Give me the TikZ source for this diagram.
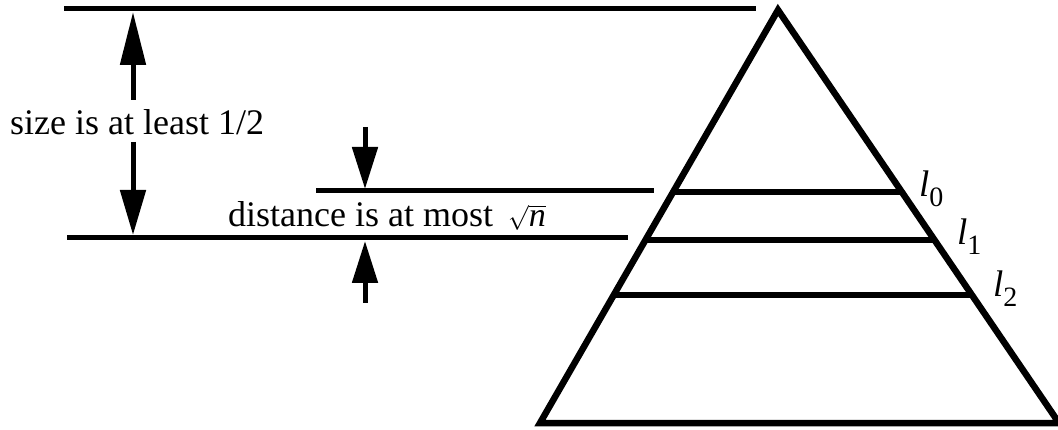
\documentclass[tikz,border=0pt]{standalone}
\usepackage{fontspec}
\setmainfont{Liberation Serif}
\usetikzlibrary{arrows.meta,calc}
\newcommand{\subdigit}[1]{\raisebox{-10pt}{\fontsize{28}{28}\selectfont\upshape #1}}
\begin{document}
\begin{tikzpicture}[x=1pt,y=-1pt,
  thinline/.style={line width=5pt},
  triline/.style={line width=6.5pt,line join=miter},
  dimarrow/.style={line width=5pt,-{Triangle[length=#1,width=25pt]}},
  dimarrow/.default=44pt,
  lbl/.style={inner sep=0pt,anchor=base west,font=\fontsize{36}{40}\selectfont},
  sublbl/.style={inner sep=0pt,anchor=base west,font=\fontsize{37}{40}\selectfont\itshape}]
\useasboundingbox (0,0) rectangle (1058,430);
% triangle
\coordinate (apex) at (778,10);
\coordinate (bl) at (540,423);
\coordinate (br) at (1059,423);
\draw[triline] (apex) -- (bl) -- (br) -- cycle;
% rungs
\foreach \t/\n in {0.4407/a,0.5569/b,0.6901/c}{
  \coordinate (L\n) at ($(apex)!\t!(bl)$);
  \coordinate (R\n) at ($(apex)!\t!(br)$);
  \draw[triline,line cap=butt] (L\n) -- (R\n);
}
% reference lines
\coordinate (t1) at (64,9);   \coordinate (t2) at (756,9);
\coordinate (m1) at (316,191); \coordinate (m2) at (654,191);
\coordinate (b1) at (67,238);  \coordinate (b2) at (628,238);
\draw[thinline] (t1) -- (t2);
\draw[thinline] (m1) -- (m2);
\draw[thinline] (b1) -- (b2);
% labels
\node[lbl] (size) at (10,135) {size is at least 1/2};
\node[lbl] (dist) at (228,227) {distance is at most};
\node[inner sep=0pt,anchor=base west,font=\fontsize{34}{36}\selectfont] (sq) at (508,227) {$\sqrt{\textit{n}}$};
\node[sublbl] (l0) at (919,197) {l\subdigit{0}};
\node[sublbl] (l1) at (957,245) {l\subdigit{1}};
\node[sublbl] (l2) at (993,297) {l\subdigit{2}};
% arrows
\coordinate (ua) at (133,100); \coordinate (ut) at (133,12);
\coordinate (da) at (133,142); \coordinate (dt) at (133,235);
\coordinate (sa) at (365,127); \coordinate (st) at (365,189);
\coordinate (qa) at (365,303); \coordinate (qt) at (365,241);
\draw[dimarrow=53pt] (ua) -- (ut);
\draw[dimarrow=45pt] (da) -- (dt);
\draw[dimarrow=42pt] (sa) -- (st);
\draw[dimarrow=42pt] (qa) -- (qt);
\end{tikzpicture}
\end{document}
